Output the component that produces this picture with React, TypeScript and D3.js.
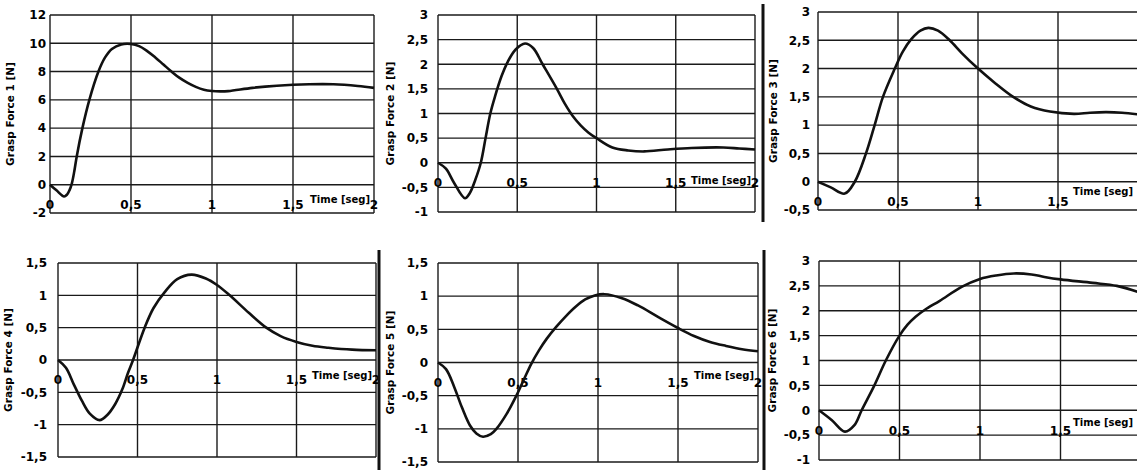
import React from "react";
import * as d3 from "d3";

// time axis (seconds), shared by all six plots
const timeTicks = [0, 0.5, 1, 1.5, 2];

// [time, force] points
const force1 = [
  [0, 0], [0.04, -0.4], [0.087, -0.83], [0.105, -0.7], [0.12, -0.4], [0.135, 0.1],
  [0.15, 0.95], [0.165, 2], [0.2, 4], [0.243, 6], [0.299, 8], [0.34, 9], [0.382, 9.6],
  [0.44, 9.92], [0.5, 9.95], [0.55, 9.8], [0.6, 9.45], [0.65, 9.0], [0.7, 8.5], [0.75, 8.0],
  [0.8, 7.55], [0.85, 7.2], [0.9, 6.92], [0.95, 6.72], [1.0, 6.63], [1.05, 6.6], [1.1, 6.62],
  [1.25, 6.85], [1.4, 7.0], [1.6, 7.1], [1.75, 7.1], [1.9, 6.98], [2.0, 6.85],
];
const force2 = [
  [0, 0], [0.05, -0.12], [0.1, -0.4], [0.17, -0.72], [0.2, -0.62], [0.235, -0.35], [0.27, 0],
  [0.3, 0.5], [0.33, 1.0], [0.36, 1.35], [0.4, 1.75], [0.44, 2.05], [0.49, 2.3], [0.549, 2.42],
  [0.6, 2.33], [0.66, 2.0], [0.75, 1.5], [0.8, 1.2], [0.85, 0.95], [0.9, 0.76], [0.95, 0.61],
  [1.0, 0.5], [1.1, 0.31], [1.2, 0.25], [1.3, 0.23], [1.45, 0.27], [1.6, 0.3], [1.8, 0.31],
  [1.9, 0.29], [2.0, 0.27],
];
const force3 = [
  [0, 0], [0.08, -0.1], [0.167, -0.21], [0.23, 0], [0.3, 0.5], [0.354, 1.0], [0.406, 1.5],
  [0.48, 2.0], [0.53, 2.3], [0.583, 2.52], [0.64, 2.67], [0.69, 2.72], [0.75, 2.67],
  [0.823, 2.5], [0.9, 2.27], [1.0, 2.0], [1.1, 1.76], [1.22, 1.5], [1.33, 1.33], [1.45, 1.24],
  [1.6, 1.2], [1.7, 1.22], [1.8, 1.23], [1.9, 1.22], [2.0, 1.19],
];
const force4 = [
  [0, 0], [0.05, -0.12], [0.1, -0.38], [0.15, -0.63], [0.2, -0.83], [0.262, -0.93],
  [0.31, -0.85], [0.36, -0.68], [0.405, -0.45], [0.44, -0.2], [0.472, 0], [0.545, 0.5],
  [0.6, 0.8], [0.671, 1.05], [0.75, 1.25], [0.84, 1.32], [0.93, 1.26], [1.0, 1.16],
  [1.08, 1.0], [1.2, 0.73], [1.31, 0.5], [1.4, 0.37], [1.5, 0.28], [1.6, 0.22], [1.7, 0.19],
  [1.85, 0.16], [2.0, 0.15],
];
const force5 = [
  [0, 0], [0.05, -0.1], [0.1, -0.36], [0.15, -0.68], [0.2, -0.95], [0.24, -1.07],
  [0.281, -1.12], [0.33, -1.08], [0.365, -1.0], [0.43, -0.77], [0.49, -0.5], [0.54, -0.24],
  [0.583, -0.02], [0.63, 0.18], [0.68, 0.36], [0.74, 0.54], [0.8, 0.7], [0.86, 0.84],
  [0.92, 0.95], [0.98, 1.01], [1.04, 1.03], [1.15, 0.97], [1.25, 0.86], [1.38, 0.68],
  [1.5, 0.52], [1.6, 0.4], [1.7, 0.31], [1.8, 0.25], [1.9, 0.2], [2.0, 0.17],
];
const force6 = [
  [0, 0], [0.08, -0.2], [0.161, -0.43], [0.22, -0.3], [0.265, 0], [0.344, 0.5], [0.415, 1.0],
  [0.5, 1.5], [0.55, 1.72], [0.6, 1.88], [0.658, 2.02], [0.75, 2.2], [0.886, 2.48],
  [1.0, 2.64], [1.1, 2.71], [1.21, 2.75], [1.32, 2.73], [1.4, 2.68], [1.5, 2.63],
  [1.7, 2.56], [1.85, 2.5], [2.0, 2.36],
];

// y tick values of each plot
const ticks1 = [-2, 0, 2, 4, 6, 8, 10, 12];
const ticks2 = [-1, -0.5, 0, 0.5, 1, 1.5, 2, 2.5, 3];
const ticks3 = [-0.5, 0, 0.5, 1, 1.5, 2, 2.5, 3];
const ticks4 = [-1.5, -1, -0.5, 0, 0.5, 1, 1.5];
const ticks5 = [-1.5, -1, -0.5, 0, 0.5, 1, 1.5];
const ticks6 = [-1, -0.5, 0, 0.5, 1, 1.5, 2, 2.5, 3];

const labels = [
  "Grasp Force 1 [N]", "Grasp Force 2 [N]", "Grasp Force 3 [N]",
  "Grasp Force 4 [N]", "Grasp Force 5 [N]", "Grasp Force 6 [N]",
];

// plot boxes on the page, plus little text offsets
const panels = [
  { data: force1, ticks: ticks1, x0: 50, x1: 374, y0: 15, y1: 213, gap: 4, lab: 40, td: 15 },
  { data: force2, ticks: ticks2, x0: 438, x1: 755, y0: 15, y1: 212, gap: 10, lab: 48, td: 18 },
  { data: force3, ticks: ticks3, x0: 818, x1: 1138, y0: 12, y1: 210, gap: 8, lab: 45, td: 10 },
  { data: force4, ticks: ticks4, x0: 58, x1: 376, y0: 263, y1: 457, gap: 11, lab: 50, td: 15 },
  { data: force5, ticks: ticks5, x0: 438, x1: 758, y0: 263, y1: 462, gap: 10, lab: 48, td: 13 },
  { data: force6, ticks: ticks6, x0: 819, x1: 1141, y0: 261, y1: 460, gap: 9, lab: 47, td: 12 },
];

const W = 1137;
const H = 470;

const locale = d3.formatLocale({
  decimal: ",", thousands: ".", grouping: [3], currency: ["", ""], minus: "-",
});
const fmt = locale.format("~g");

const FONT = "'DejaVu Sans', Arial, sans-serif";

const Panel = ({ p, label }) => {
  const x = d3.scaleLinear().domain([0, 2]).range([p.x0, p.x1]);
  const ext = d3.extent(p.ticks);
  const y = d3.scaleLinear().domain([ext[1], ext[0]]).range([p.y0, p.y1]);
  const line = d3.line()
    .x((d) => x(d[0]))
    .y((d) => y(d[1]))
    .curve(d3.curveCatmullRom.alpha(0.5));
  const zero = y(0);
  const midY = (p.y0 + p.y1) / 2;
  const labX = p.x0 - p.lab;
  // the right-hand plots run off the page; keep labels that fit
  const xLabels = timeTicks.filter((t) => x(t) < W - 6);
  const titleX = Math.min(x(2) - 4, W - 4);

  return (
    <g>
      {p.ticks.map((t) => (
        <line key={"h" + t} x1={p.x0} x2={p.x1} y1={y(t)} y2={y(t)}
          stroke="#1a1a1a" strokeWidth={1.4} />
      ))}
      {timeTicks.map((t) => (
        <line key={"v" + t} x1={x(t)} x2={x(t)} y1={p.y0} y2={p.y1}
          stroke="#1a1a1a" strokeWidth={1.4} />
      ))}
      {p.ticks.map((t) => (
        <text key={"yl" + t} x={p.x0 - p.gap} y={y(t)} dy="0.36em" textAnchor="end"
          fontFamily={FONT} fontWeight="bold" fontSize={12}>{fmt(t)}</text>
      ))}
      {xLabels.map((t) => (
        <text key={"xl" + t} x={x(t)} y={zero + 20} dy="0.36em" textAnchor="middle"
          fontFamily={FONT} fontWeight="bold" fontSize={12}>{fmt(t)}</text>
      ))}
      <text x={titleX} y={zero + p.td} dy="0.36em" textAnchor="end"
        fontFamily={FONT} fontWeight="bold" fontSize={10}>Time [seg]</text>
      <text transform={`translate(${labX},${midY}) rotate(-90)`} dy="0.36em"
        textAnchor="middle" fontFamily={FONT} fontWeight="bold" fontSize={10.5}>{label}</text>
      <path d={line(p.data)} fill="none" stroke="#111" strokeWidth={2.6}
        strokeLinejoin="round" />
    </g>
  );
};

export default function App() {
  return (
    <div>
      <style>{"body{margin:0;background:#fff}"}</style>
      <svg width={W} height={H} style={{ display: "block" }}>
        <rect width={W} height={H} fill="#fff" />
        {panels.map((p, i) => (
          <Panel key={i} p={p} label={labels[i]} />
        ))}
        {/* page separators from the scan */}
        <line x1={763} x2={763} y1={4} y2={222} stroke="#111" strokeWidth={3} />
        <line x1={379} x2={379} y1={250} y2={470} stroke="#111" strokeWidth={3} />
        <line x1={764} x2={764} y1={250} y2={470} stroke="#111" strokeWidth={3} />
      </svg>
    </div>
  );
}
